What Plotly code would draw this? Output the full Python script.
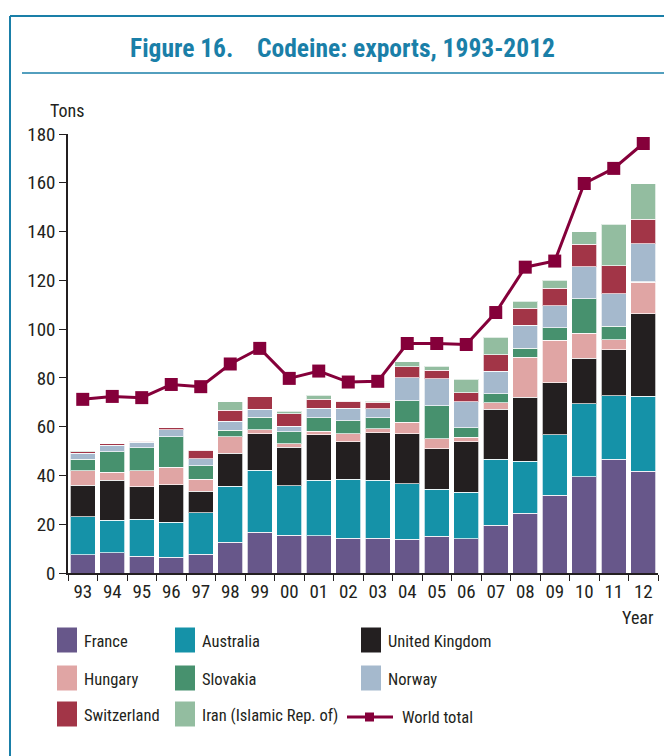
import plotly.graph_objects as go

years = ["93", "94", "95", "96", "97", "98", "99", "00", "01", "02",
         "03", "04", "05", "06", "07", "08", "09", "10", "11", "12"]

france      = [7.4, 8.3, 6.8, 6.4, 7.6, 12.6, 16.8, 15.4, 15.3, 14.2, 14.2, 13.8, 15.0, 14.1, 19.5, 24.5, 31.8, 39.5, 46.6, 41.7]
australia   = [15.7, 13.3, 15.3, 14.5, 17.1, 22.9, 25.3, 20.4, 22.8, 24.3, 23.8, 22.7, 19.3, 19.0, 27.2, 21.4, 24.8, 29.8, 26.1, 30.8]
uk          = [12.8, 16.4, 13.3, 15.3, 8.8, 13.5, 14.9, 15.8, 18.5, 15.3, 19.5, 20.7, 16.6, 20.7, 20.4, 26.1, 21.4, 18.7, 18.8, 33.8]
hungary     = [6.0, 3.4, 6.5, 7.1, 5.0, 6.9, 1.7, 1.3, 1.6, 3.4, 1.7, 4.7, 4.1, 1.9, 2.7, 16.5, 17.5, 10.4, 4.1, 13.0]
slovakia    = [4.8, 8.3, 9.5, 12.6, 5.5, 2.6, 5.1, 5.0, 5.5, 5.2, 4.5, 8.7, 13.6, 3.9, 3.8, 3.7, 5.0, 14.0, 5.6, 0.2]
norway      = [2.3, 2.6, 2.2, 2.8, 2.9, 3.7, 3.3, 2.3, 3.9, 5.2, 3.6, 9.5, 11.1, 10.6, 9.2, 9.4, 9.1, 13.1, 13.4, 15.6]
switzerland = [0.7, 0.6, 0.4, 0.9, 3.4, 4.5, 5.2, 5.1, 3.7, 2.8, 2.8, 4.5, 3.5, 3.7, 6.7, 6.9, 7.1, 9.2, 11.3, 9.9]
iran        = [0.3, 0.0, 0.0, 0.0, 0.0, 3.5, 0.0, 1.0, 1.5, 0.3, 0.4, 2.1, 1.6, 5.5, 7.1, 3.0, 3.3, 5.3, 17.0, 14.6]
world_total = [71.2, 72.4, 71.9, 77.3, 76.4, 85.7, 92.1, 79.8, 82.8, 78.3, 78.6, 94.1, 94.1, 93.7, 106.8, 125.4, 127.9, 159.7, 165.9, 176.1]

series = [
    ("France", france, "#67578a"),
    ("Australia", australia, "#1592a8"),
    ("United Kingdom", uk, "#231f20"),
    ("Hungary", hungary, "#e0a5a4"),
    ("Slovakia", slovakia, "#47916e"),
    ("Norway", norway, "#a5b9cd"),
    ("Switzerland", switzerland, "#a23547"),
    ("Iran (Islamic Rep. of)", iran, "#93bda0"),
]
line_color = "#85003a"
blue = "#1a7fa8"
FONT = "Roboto Condensed, Liberation Sans Narrow, Arial Narrow, sans-serif"
W, H = 664, 756
L, R, T, B = 68, 6, 134, 183
PW, PH = W - L - R, H - T - B


def px(x):
    return (x - L) / PW


def py(y):
    return (H - B - y) / PH


fig = go.Figure()
for name, vals, col in series:
    fig.add_trace(go.Bar(x=years, y=vals, name=name,
                         marker=dict(color=col, line=dict(color="rgba(255,255,255,0.7)", width=1))))
fig.add_trace(go.Scatter(x=years, y=world_total, name="World total", mode="lines+markers",
                         line=dict(color=line_color, width=3), cliponaxis=False,
                         marker=dict(symbol="square", size=13, color=line_color)))

fig.update_layout(
    width=W, height=H, margin=dict(l=L, r=R, t=T, b=B),
    barmode="stack", bargap=0.16, showlegend=False,
    plot_bgcolor="white", paper_bgcolor="white",
    font=dict(family=FONT, size=18, color="#231f20"),
)
fig.update_xaxes(type="category", range=[-0.5, 19.5], autorange=False, tickson="boundaries",
                 ticks="outside", ticklen=6, automargin=False, tickangle=0,
                 tickcolor="#231f20", showline=True, linecolor="#231f20", linewidth=1.5,
                 tickfont=dict(size=19, family=FONT))
fig.update_yaxes(range=[0, 180], autorange=False, dtick=20, ticks="outside", ticklen=7, tickcolor="#231f20",
                 showline=True, linecolor="#231f20", linewidth=1.5, showgrid=False, automargin=False,
                 zeroline=False, tickfont=dict(size=19, family=FONT))

shapes = []
shapes.append(dict(type="line", xref="paper", yref="paper", x0=px(10), x1=px(664), y0=py(16), y1=py(16),
                   line=dict(color=blue, width=2)))
shapes.append(dict(type="line", xref="paper", yref="paper", x0=px(10), x1=px(10), y0=py(16), y1=py(756),
                   line=dict(color=blue, width=2)))
shapes.append(dict(type="line", xref="paper", yref="paper", x0=px(22), x1=px(664), y0=py(73), y1=py(73),
                   line=dict(color=blue, width=1.5)))

annotations = [
    dict(text="<b>Figure 16.    Codeine: exports, 1993-2012</b>", x=px(342), y=py(48), xref="paper", yref="paper",
         showarrow=False, font=dict(size=25.5, color=blue, family=FONT), xanchor="center", yanchor="middle"),
    dict(text="Tons", x=px(67), y=py(110), xref="paper", yref="paper", showarrow=False,
         font=dict(size=18, family=FONT), xanchor="center", yanchor="middle"),
    dict(text="Year", x=px(656), y=py(617), xref="paper", yref="paper", showarrow=False,
         font=dict(size=18, family=FONT), xanchor="right", yanchor="middle"),
]

cols_x = [57, 175, 361]
rows_y = [640, 678, 714]
for i, (name, _, col) in enumerate(series):
    r, c = divmod(i, 3)
    x0 = cols_x[c]
    yc = rows_y[r]
    shapes.append(dict(type="rect", xref="paper", yref="paper", x0=px(x0), x1=px(x0 + 20),
                       y0=py(yc - 12.5), y1=py(yc + 12.5), fillcolor=col, line=dict(width=0)))
    annotations.append(dict(text=name, x=px(x0 + 25), y=py(yc + 1), xref="paper", yref="paper", showarrow=False,
                            font=dict(size=16.5, family=FONT), xanchor="left", yanchor="middle"))
yc = 717
shapes.append(dict(type="line", xref="paper", yref="paper", x0=px(347), x1=px(393), y0=py(yc), y1=py(yc),
                   line=dict(color=line_color, width=3)))
shapes.append(dict(type="rect", xref="paper", yref="paper", x0=px(365), x1=px(374), y0=py(yc - 4.5),
                   y1=py(yc + 4.5), fillcolor=line_color, line=dict(width=0)))
annotations.append(dict(text="World total", x=px(400), y=py(yc), xref="paper", yref="paper", showarrow=False,
                        font=dict(size=16.5, family=FONT), xanchor="left", yanchor="middle"))

fig.update_layout(shapes=shapes, annotations=annotations)
fig.write_html("out.html", config={"displayModeBar": False},
               post_script="document.body.style.margin='0px';document.body.style.overflow='hidden';")
